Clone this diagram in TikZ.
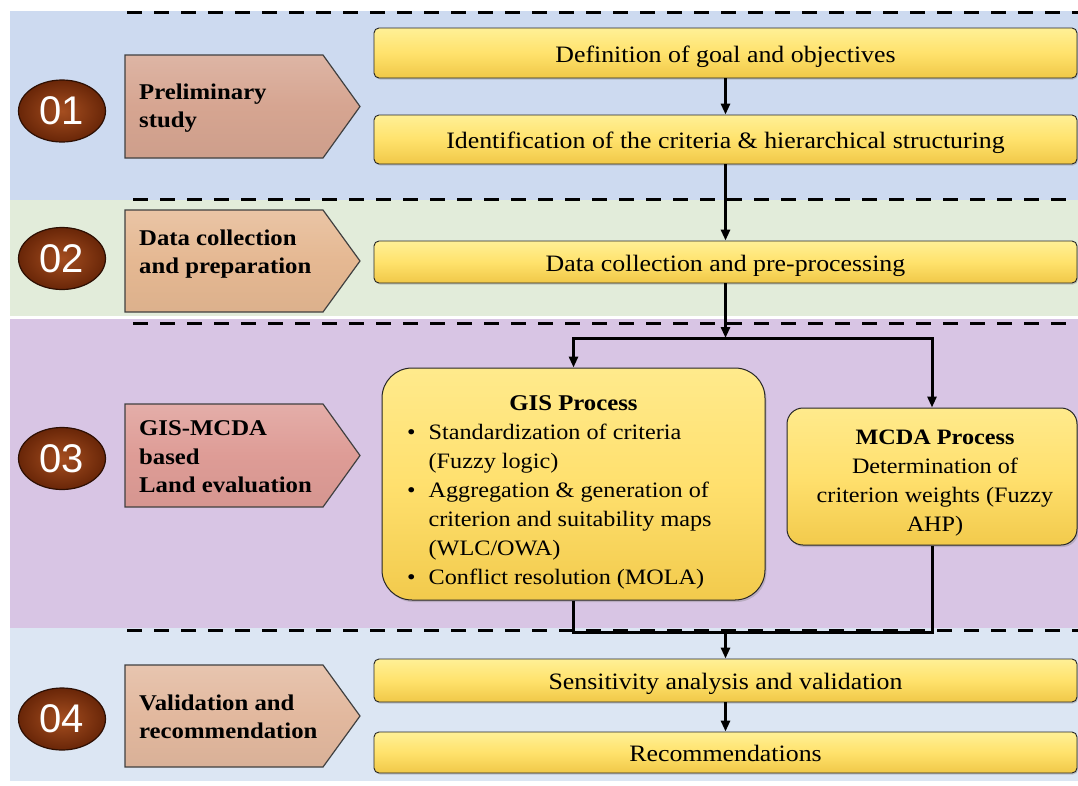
\documentclass[tikz,border=0pt]{standalone}
\usepackage{fontspec}
\setmainfont{Liberation Serif}[FakeStretch=1.1]
\newfontfamily\numfont{Liberation Sans}
\usetikzlibrary{arrows.meta,shadows,shapes.geometric}

% band colours
\definecolor{bandA}{RGB}{205,218,240}
\definecolor{bandB}{RGB}{226,236,218}
\definecolor{bandC}{RGB}{216,197,228}
\definecolor{bandD}{RGB}{220,230,243}
% phase arrows
\definecolor{penA}{RGB}{214,165,145}
\definecolor{penB}{RGB}{229,184,146}
\definecolor{penC}{RGB}{222,156,150}
\definecolor{penD}{RGB}{226,184,158}
% yellow boxes
\definecolor{barTop}{RGB}{255,240,150}
\definecolor{barMid}{RGB}{255,226,108}
\definecolor{barBot}{RGB}{240,200,72}
% number ovals
\definecolor{ovalIn}{RGB}{165,78,32}
\definecolor{ovalOut}{RGB}{105,38,8}

\begin{document}
\begin{tikzpicture}[x=1pt,y=-1pt,
  sep/.style={line width=3pt, dash pattern=on 15pt off 12pt},
  bar/.style={draw=black!85, line width=0.9pt, rounded corners=5pt,
    top color=barTop, bottom color=barBot, middle color=barMid,
    minimum width=703pt, inner sep=0pt, text height=18pt, text depth=0pt,
    font=\fontsize{23.5}{28}\selectfont,
    drop shadow={opacity=0.35, shadow xshift=1pt, shadow yshift=-1.5pt}},
  procbox/.style={draw=black!85, line width=1pt,
    top color={rgb,255:red,255;green,234;blue,140},
    bottom color={rgb,255:red,242;green,202;blue,76},
    middle color={rgb,255:red,255;green,224;blue,110},
    inner sep=0pt,
    drop shadow={opacity=0.35, shadow xshift=1.5pt, shadow yshift=-2pt}},
  pent/.style={draw=black!75, line width=1.2pt, line join=miter},
  ptext/.style={anchor=west, align=left, inner sep=0pt,
    font=\bfseries\fontsize{22.5}{28.5}\selectfont},
  oval/.style={ellipse, minimum width=87pt, minimum height=62pt, inner sep=0pt,
    draw={rgb,255:red,45;green,15;blue,3}, line width=1.2pt,
    inner color=ovalIn, outer color=ovalOut, text=white,
    font=\numfont\fontsize{40}{40}\selectfont},
  conn/.style={line width=3pt, line join=miter},
  arr/.style={conn, -{Triangle[length=11pt,width=9pt]}}
]
\useasboundingbox (0,0) rectangle (1078,785);

% phase bands
\fill[bandA] (10,11) rectangle (1078,200);
\fill[bandB] (10,200) rectangle (1078,316);
\fill[bandC] (10,319) rectangle (1078,628);
\fill[bandD] (10,628) rectangle (1078,781);

% separators between phases
\draw[sep] (127,12) -- (1078,12);
\draw[sep] (133,199) -- (1078,199);
\draw[sep] (133,323) -- (1078,323);
\draw[sep] (127,630) -- (1078,630);

% phase numbers
\node[oval] (n1) at (62,111) {01};
\node[oval] (n2) at (62,258.5) {02};
\node[oval] (n3) at (62,458.5) {03};
\node[oval] (n4) at (62,719) {04};

% phase arrows
\draw[pent, top color=penA!82!white, bottom color=penA!96!black, middle color=penA]
  (125,55) -- (323,55) -- (360,106.5) -- (323,158) -- (125,158) -- cycle;
\draw[pent, top color=penB!82!white, bottom color=penB!96!black, middle color=penB]
  (125,210) -- (323,210) -- (360,261) -- (323,312) -- (125,312) -- cycle;
\draw[pent, top color=penC!82!white, bottom color=penC!96!black, middle color=penC]
  (125,404) -- (323,404) -- (360,455.5) -- (323,507) -- (125,507) -- cycle;
\draw[pent, top color=penD!82!white, bottom color=penD!96!black, middle color=penD]
  (125,665) -- (323,665) -- (360,716) -- (323,767) -- (125,767) -- cycle;

\node[ptext] (l1) at (139,108) {Preliminary\\study};
\node[ptext] (l2) at (139,254) {Data collection\\and preparation};
\node[ptext] (l3) at (139,457) {GIS-MCDA\\based\\Land evaluation};
\node[ptext] (l4) at (139,717) {Validation and\\recommendation};

% process steps
\node[bar, minimum height=50pt] (def) at (725.5,53) {Definition of goal and objectives};
\node[bar, minimum height=49pt] (ident) at (725.5,139.5) {Identification of the criteria \& hierarchical structuring};
\node[bar, minimum height=42pt] (data) at (725.5,262) {Data collection and pre-processing};

\node[procbox, minimum width=383pt, minimum height=232pt, rounded corners=30pt] (gis) at (573.5,484) {};
\node[procbox, minimum width=290pt, minimum height=137pt, rounded corners=16pt] (mcda) at (932,476.5) {};

\node[bar, minimum height=43pt] (sens) at (725.5,680.5) {Sensitivity analysis and validation};
\node[bar, minimum height=41pt] (rec) at (725.5,752.5) {Recommendations};

% GIS process content
\node[anchor=base, inner sep=0pt, font=\bfseries\fontsize{22.5}{29}\selectfont] (gistitle) at (573.5,410) {GIS Process};
\node[anchor=north west, inner sep=0pt, font=\fontsize{22}{29}\selectfont] (gistxt) at (407,418.7) {%
  \begin{tabular}{@{}l@{\hspace{13pt}}l@{}}
  \textbullet & Standardization of criteria\\
   & (Fuzzy logic)\\
  \textbullet & Aggregation \& generation of\\
   & criterion and suitability maps\\
   & (WLC/OWA)\\
  \textbullet & Conflict resolution (MOLA)
  \end{tabular}};

% MCDA process content
\node[align=center, inner sep=0pt, font=\fontsize{22}{29}\selectfont] (mcdatxt) at (935,483)
  {\textbf{MCDA Process}\\Determination of\\criterion weights (Fuzzy\\AHP)};

% flow
\coordinate (j1) at (725.5,338);
\coordinate (j2) at (725.5,632);
\draw[arr] (def) -- (ident);
\draw[arr] (ident) -- (data);
\draw[arr] (data) -- (j1);
\draw[arr] (j1) -| (gis.north);
\draw[arr] (j1) -| (mcda.north);
\draw[conn] (gis.south) |- (j2) -| (mcda.south);
\draw[arr] (j2) -- (sens);
\draw[arr] (sens) -- (rec);
\end{tikzpicture}
\end{document}
